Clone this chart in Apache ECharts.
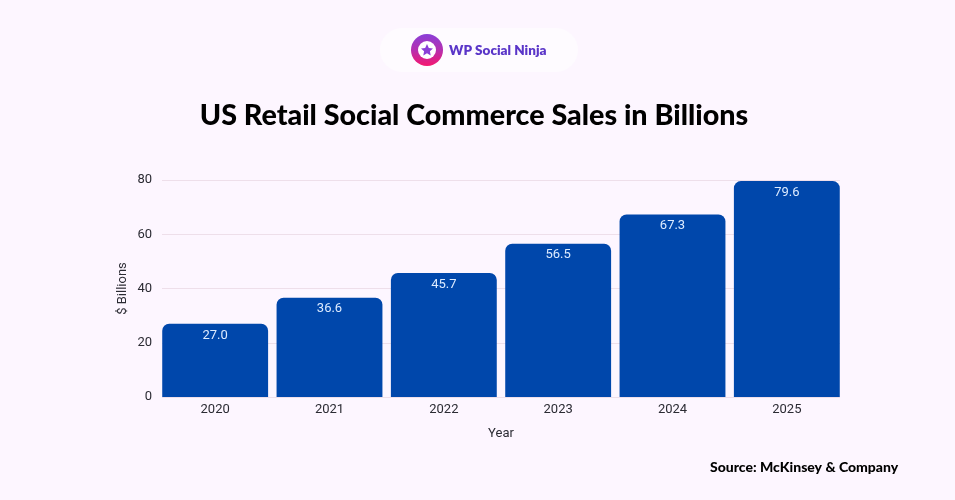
<!DOCTYPE html>
<html>
<head>
<meta charset="utf-8">
<style>
  html, body { margin: 0; padding: 0; background: #fdf6ff; }
  #main { width: 955px; height: 500px; }
</style>
</head>
<body>
<div id="main"></div>
<script src="https://cdn.jsdelivr.net/npm/echarts@6/dist/echarts.min.js"></script>
<script>
const years = ['2020', '2021', '2022', '2023', '2024', '2025']
const sales = [27.0, 36.6, 45.7, 56.5, 67.3, 79.6]
const yTicks = { min: 0, max: 80, interval: 20 }

const labelFont = 'Roboto, sans-serif'
const labelSize = 13
const textColor = '#2b2b33'

const chart = echarts.init(document.getElementById('main'))

// two grids: the gridlines stop at the outer bar edges, the bars need the wider bands
const plotTop = 180
const plotBottom = 103

chart.setOption({
  backgroundColor: '#fdf6ff',
  animation: false,
  title: [
    {
      text: 'US Retail Social Commerce Sales in Billions',
      left: 469,
      top: 96,
      textAlign: 'center',
      textStyle: { fontFamily: 'Lato, sans-serif', fontWeight: 900, fontSize: 28.7, color: '#000' },
    },
    {
      text: 'Source: McKinsey & Company',
      left: 705,
      top: 455,
      textStyle: { fontFamily: 'Lato, sans-serif', fontWeight: 900, fontSize: 14, color: '#000' },
    },
  ],
  grid: [
    { left: 162, right: 115, top: plotTop, bottom: plotBottom },
    { left: 158, right: 111, top: plotTop, bottom: plotBottom },
  ],
  xAxis: [
    { gridIndex: 0, type: 'category', data: years, show: false },
    {
      gridIndex: 1,
      type: 'category',
      data: years,
      name: 'Year',
      nameLocation: 'middle',
      nameGap: 30,
      nameTextStyle: { fontFamily: labelFont, fontSize: labelSize, color: textColor },
      axisTick: { show: false },
      axisLine: { show: false },
      axisLabel: { fontFamily: labelFont, fontSize: labelSize, color: textColor, margin: 6 },
    },
  ],
  yAxis: [
    {
      gridIndex: 0,
      type: 'value',
      ...yTicks,
      name: '$ Billions',
      nameLocation: 'middle',
      nameGap: 33,
      nameMoveOverlap: false,
      nameTextStyle: { fontFamily: labelFont, fontSize: labelSize, color: textColor },
      axisLine: { show: false },
      axisTick: { show: false },
      axisLabel: { fontFamily: labelFont, fontSize: labelSize, color: textColor, margin: 10 },
      splitLine: { lineStyle: { color: '#eedfea', width: 1 } },
    },
    { gridIndex: 1, type: 'value', ...yTicks, show: false },
  ],
  series: [
    {
      type: 'bar',
      xAxisIndex: 1,
      yAxisIndex: 1,
      data: sales,
      barCategoryGap: '7.4%',
      itemStyle: { color: '#0047ab', borderRadius: [7, 7, 0, 0] },
      label: {
        show: true,
        position: 'insideTop',
        distance: 5,
        formatter: (p) => p.value.toFixed(1),
        fontFamily: labelFont,
        fontSize: labelSize,
        color: '#dcebff',
      },
    },
  ],
  graphic: [
    { type: 'rect', shape: { x: 380, y: 28, width: 198, height: 44, r: 22 }, style: { fill: '#fefbff' } },
    {
      type: 'circle',
      shape: { cx: 427, cy: 50, r: 16 },
      style: {
        fill: new echarts.graphic.LinearGradient(0, 0, 0, 1, [
          { offset: 0, color: '#8a3fd8' },
          { offset: 0.5, color: '#b52fb0' },
          { offset: 1, color: '#f5176f' },
        ]),
      },
    },
    { type: 'circle', shape: { cx: 427, cy: 50, r: 9 }, style: { fill: '#fff' } },
    {
      type: 'polygon',
      shape: { points: [[427, 44], [428.8, 47.9], [433, 48.4], [429.9, 51.2], [430.7, 55.4], [427, 53.3], [423.3, 55.4], [424.1, 51.2], [421, 48.4], [425.2, 47.9]] },
      style: { fill: '#8a3fd8' },
    },
    {
      type: 'text',
      style: {
        x: 449,
        y: 51,
        text: 'WP Social Ninja',
        verticalAlign: 'middle',
        fill: '#5a35c8',
        font: '800 13.5px Lato, sans-serif',
      },
    },
  ],
})
</script>
</body>
</html>
